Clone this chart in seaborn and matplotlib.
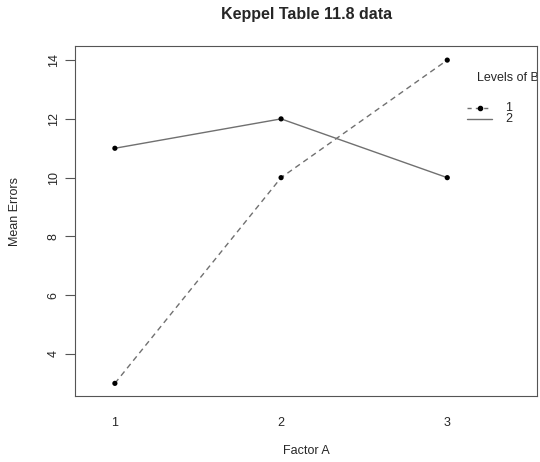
import matplotlib
matplotlib.use('Agg')
from matplotlib import pyplot as plt
import pandas as pd
import seaborn as sns

factor_a = [1, 2, 3]
b1_means = [3, 10, 14]
b2_means = [11, 12, 10]
b_levels = ['1', '2']

df = pd.DataFrame({
    'Factor A': factor_a * 2,
    'Mean Errors': b1_means + b2_means,
    'B': [b_levels[0]] * 3 + [b_levels[1]] * 3,
})

sns.set_style('white')
plt.rcParams['font.family'] = ['Liberation Sans', 'DejaVu Sans']

fig = plt.figure(figsize=(5.4, 4.62), dpi=100)
ax = fig.add_axes([75 / 540, 1 - 396 / 462, (537 - 75) / 540, (396 - 46) / 462])

sns.lineplot(data=df, x='Factor A', y='Mean Errors', hue='B', style='B',
             palette={'1': '#707070', '2': '#707070'},
             dashes={'1': (4, 3), '2': ''}, lw=1, legend=False, ax=ax)
sns.scatterplot(data=df, x='Factor A', y='Mean Errors', color='black', s=14,
                edgecolor='none', legend=False, ax=ax, zorder=3)

ax.set_xlim(0.76, 3.54)
ax.set_ylim(2.57, 14.48)
ax.set_xticks(factor_a)
ax.set_xticklabels([str(v) for v in factor_a])
ax.set_yticks([4, 6, 8, 10, 12, 14])
ax.tick_params(axis='x', length=0, pad=15, labelsize=9)
ax.tick_params(axis='y', length=7, width=0.8, color='#555555', pad=4,
               labelsize=9, labelrotation=90, left=True)
for lab in ax.get_yticklabels():
    lab.set_va('center')
for sp in ax.spines.values():
    sp.set_color('#555555')
    sp.set_linewidth(0.8)

ax.set_xlabel('Factor A', fontsize=9, labelpad=12)
ax.set_ylabel('Mean Errors', fontsize=9)
ax.yaxis.set_label_coords(-0.117, 0.526)

# legend drawn like R's interaction.plot, clipped by the plot box
ax.text(3.18, 13.40, 'Levels of B', fontsize=9, va='center', ha='left',
        clip_on=True)
x0, x1 = 3.12, 3.27
ax.plot([x0, x1], [12.37, 12.37], color='#707070', lw=1, dashes=(3, 3))
ax.plot([(x0 + x1) / 2], [12.37], 'o', color='black', ms=3)
ax.plot([x0, x1], [11.99, 11.99], color='#707070', lw=1)
ax.text(3.35, 12.37, b_levels[0], fontsize=9, va='center', ha='left')
ax.text(3.35, 11.99, b_levels[1], fontsize=9, va='center', ha='left')

fig.text(307 / 540, 1 - 15 / 462, 'Keppel Table 11.8 data', fontsize=11.5,
         fontweight='bold', ha='center', va='center')

fig.savefig('out.png', dpi=100)
